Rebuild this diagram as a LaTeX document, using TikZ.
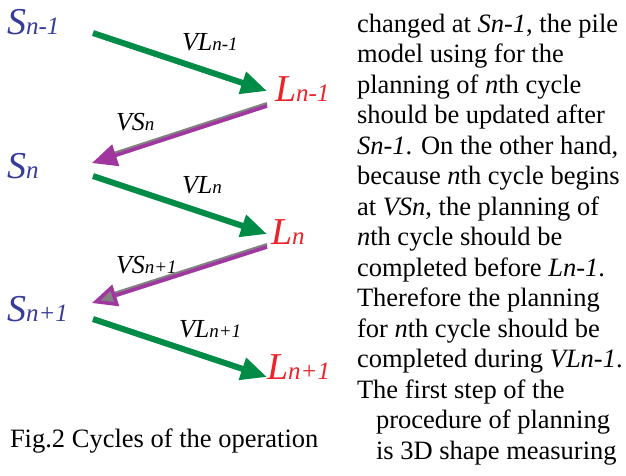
\documentclass[tikz,border=0pt]{standalone}
\usepackage{fontspec}
\setmainfont{Liberation Serif}
\usetikzlibrary{arrows.meta}
\definecolor{sblue}{RGB}{55,60,155}
\definecolor{lred}{RGB}{236,35,42}
\definecolor{agreen}{RGB}{0,140,70}
\definecolor{amag}{RGB}{160,55,160}
\definecolor{ashadow}{RGB}{130,130,130}
\newcommand{\bigsub}[2]{{\fontsize{38}{38}\selectfont\itshape #1}{\fontsize{25}{25}\selectfont\itshape #2}}
\newcommand{\lblsub}[2]{{\fontsize{26}{26}\selectfont\itshape #1}{\fontsize{19}{19}\selectfont\itshape #2}}
\tikzset{
  snode/.style={anchor=base west, inner sep=0pt, outer sep=0pt, text=sblue},
  lnode/.style={anchor=base west, inner sep=0pt, outer sep=0pt, text=lred},
  vlabel/.style={anchor=base west, inner sep=0pt, outer sep=0pt, text=black},
  bodyline/.style={anchor=base west, inner sep=0pt, outer sep=0pt, font=\fontsize{26.5}{30.5}\selectfont},
  garrow/.style={draw=agreen, line width=6pt, -{Triangle[length=26pt,width=22pt]}, fill=agreen},
  marrow/.style={draw=amag, line width=3.6pt},
  mshadow/.style={draw=ashadow, line width=3pt, shorten >=20pt},
}
\begin{document}
\begin{tikzpicture}[x=1pt,y=-1pt]
\useasboundingbox (0,0) rectangle (626,475);
\fill[white] (0,0) rectangle (626,475);

% left labels
\node[snode] (s1) at (7,34) {\bigsub{S}{n-1}};
\node[snode] (s2) at (7,178) {\bigsub{S}{n}};
\node[snode] (s3) at (7,321) {\bigsub{S}{n+1}};
\node[lnode] (l1) at (275,101) {\bigsub{L}{n-1}};
\node[lnode] (l2) at (271,244) {\bigsub{L}{n}};
\node[lnode] (l3) at (267,379) {\bigsub{L}{n+1}};

% arrow end points
\coordinate (g1s) at (93,33);
\coordinate (g1e) at (267,91);
\coordinate (m1s) at (267,106);
\coordinate (m1e) at (92,163);
\coordinate (g2s) at (93,176);
\coordinate (g2e) at (267,234);
\coordinate (m2s) at (267,247);
\coordinate (m2e) at (92,303);
\coordinate (g3s) at (93,319);
\coordinate (g3e) at (267,377);

% green arrows
\draw[garrow] (g1s) -- (g1e);
\draw[garrow] (g2s) -- (g2e);
\draw[garrow] (g3s) -- (g3e);

% magenta arrows with shadow
\draw[mshadow] ([yshift=2.5pt]m1s) -- ([yshift=2.5pt]m1e);
\draw[marrow, -{Triangle[length=25pt,width=22pt,fill=amag]}] (m1s) -- (m1e);
\draw[mshadow] ([yshift=2.5pt]m2s) -- ([yshift=2.5pt]m2e);
\draw[marrow, -{Triangle[length=25pt,width=22pt,fill=ashadow]}] (m2s) -- (m2e);

% arrow labels
\node[vlabel] (vl1) at (182,50) {\lblsub{VL}{n-1}};
\node[vlabel] (vs1) at (116,130) {\lblsub{VS}{n}};
\node[vlabel] (vl2) at (182,193) {\lblsub{VL}{n}};
\node[vlabel] (vs2) at (116,273) {\lblsub{VS}{n+1}};
\node[vlabel] (vl3) at (179,337) {\lblsub{VL}{n+1}};

% caption
\node[bodyline] (cap) at (10,447) {Fig.2 Cycles of the operation};

% body text
\node[bodyline] (t1) at (357,32) {changed at \textit{Sn-1}, the pile};
\node[bodyline] (t2) at (357,62.5) {model using for the};
\node[bodyline] (t3) at (357,93) {planning of \textit{n}th cycle};
\node[bodyline] (t4) at (357,123.5) {should be updated after};
\node[bodyline] (t5) at (357,154) {\textit{Sn-1}. On the other hand,};
\node[bodyline] (t6) at (357,184.5) {because \textit{n}th cycle begins};
\node[bodyline] (t7) at (357,215) {at \textit{VSn}, the planning of};
\node[bodyline] (t8) at (357,245.5) {\textit{n}th cycle should be};
\node[bodyline] (t9) at (357,276) {completed before \textit{Ln-1}.};
\node[bodyline] (t10) at (357,306.5) {Therefore the planning};
\node[bodyline] (t11) at (357,337) {for \textit{n}th cycle should be};
\node[bodyline] (t12) at (357,367.5) {completed during \textit{VLn-1}.};
\node[bodyline] (t13) at (357,398) {The first step of the};
\node[bodyline] (t14) at (376,428.5) {procedure of planning};
\node[bodyline] (t15) at (376,459) {is 3D shape measuring};
\end{tikzpicture}
\end{document}
